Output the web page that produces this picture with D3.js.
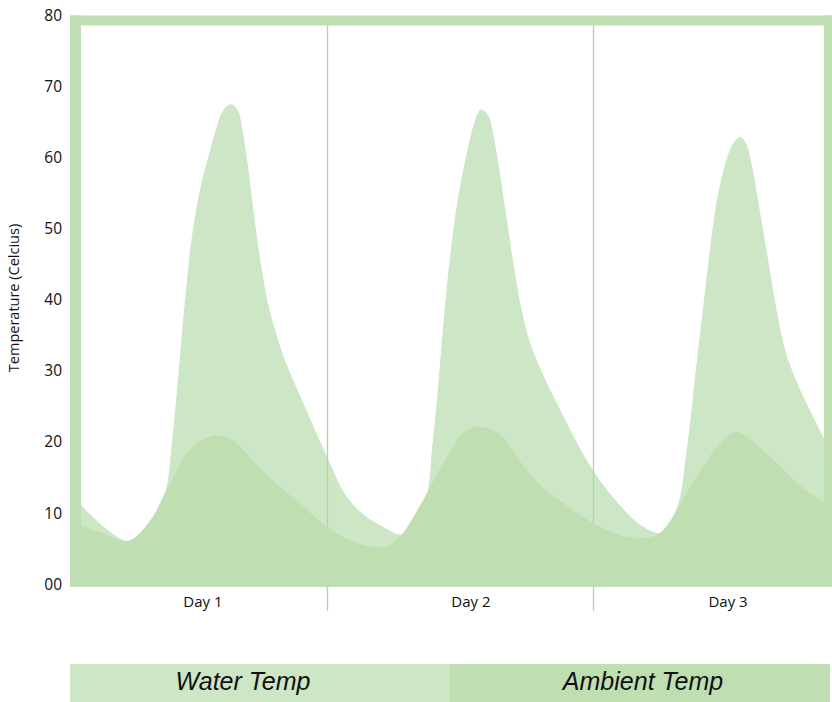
<!DOCTYPE html>
<html>
<head>
<meta charset="utf-8">
<script src="https://cdn.jsdelivr.net/npm/d3@7"></script>
<style>
  html, body { margin: 0; padding: 0; background: #fff; }
  svg { display: block; }
</style>
</head>
<body>
<svg id="chart" width="832" height="702"></svg>
<script>
// ---- data (hours since start, temperature in °C) ----
const waterHours = [0, 4.55, 6.69, 8.14, 8.82, 9.40, 10.08, 10.76, 11.53, 12.31, 13.08, 13.76, 14.53, 15.21, 15.70, 16.18, 16.76, 17.44, 18.12, 18.80, 19.77, 21.42, 23.84, 25.78, 27.51, 28.97, 31.11,
  32.37, 33.53, 34.01, 34.50, 35.08, 35.76, 36.44, 37.21, 37.89, 38.37, 38.76, 39.44, 39.92, 40.41, 41.09, 41.86, 42.64, 43.51, 44.96, 46.42, 49.61, 52.91, 54.65, 56.11,
  57.08, 58.04, 58.53, 59.01, 59.30, 60.37, 61.63, 62.70, 63.28, 63.86, 64.44, 64.93, 65.61, 66.48, 67.35, 68.22, 69.19, 70.16, 72];
const waterTemp = [11.1, 6.05, 8.8, 12.8, 20, 29, 40, 49, 55.5, 60, 64, 66.6, 67.5, 66.6, 63.5, 58.8, 52, 45, 39.5, 35.8, 31.5, 25.9, 17.9, 12.2, 9.6, 8.3, 7.0,
  9.3, 12.7, 19, 26, 36, 46, 53.5, 59.5, 63.8, 66, 66.8, 66, 63.5, 59.5, 53, 45.5, 39, 34, 28.9, 24.6, 16.0, 10.0, 7.9, 7.2,
  8.6, 12.2, 17, 22.5, 26.3, 40, 54, 60.4, 62.2, 62.9, 62.0, 59.5, 54, 46.5, 39, 33, 29, 25.9, 20.5];

const ambientHours = [0, 1.84, 4.55, 6.69, 8.62, 10.56, 12.50, 13.66, 14.63, 15.89, 17.35, 19.28, 21.42, 23.84, 26.07, 28.30, 29.94, 31.11,
  33.14, 35.47, 37.40, 38.86, 40.60, 42.06, 43.51, 44.96, 46.42, 49.61, 52.91, 54.65, 56.11, 59.30, 61.63, 63.37, 64.54, 67.44, 69.67, 72];
const ambientTemp = [8.2, 7.3, 6.05, 8.9, 14.2, 18.9, 20.7, 20.8, 20.3, 18.6, 16.3, 13.7, 11.1, 8.0, 6.2, 5.2, 5.5, 7.0,
  11.8, 17.9, 21.7, 22.1, 21.0, 18.3, 15.4, 13.3, 11.7, 8.6, 6.6, 6.5, 7.2, 14.2, 19.3, 21.4, 20.7, 17.0, 13.9, 11.4];

const yTicks = [0, 10, 20, 30, 40, 50, 60, 70, 80];
const yTickLabels = ["00", "10", "20", "30", "40", "50", "60", "70", "80"];
const dayLabels = ["Day 1", "Day 2", "Day 3"];
const dayLabelHours = [11.82, 37.79, 62.70];
const dayBoundaryHours = [23.84, 49.61];
const legendLabels = ["Water Temp", "Ambient Temp"];
const yTitle = "Temperature (Celcius)";

// ---- styles ----
const waterColor = "#cde6c5";
const ambientColor = "#bfdfb2";
const dividerColor = "#b2d5a4";

const svg = d3.select("#chart");
const x = d3.scaleLinear().domain([0, 72]).range([81, 824]);
const y = d3.scaleLinear().domain([0, 80]).range([584, 15.5]);
const base = y(0) + 3;

const water = waterHours.map((h, i) => ({ h, v: waterTemp[i] }));
const ambient = ambientHours.map((h, i) => ({ h, v: ambientTemp[i] }));

const area = d3.area()
  .x(d => x(d.h))
  .y0(base)
  .y1(d => y(d.v))
  .curve(d3.curveCatmullRom.alpha(0.5));

// water area
svg.append("path").datum(water).attr("d", area).attr("fill", waterColor);

// day dividers
svg.selectAll("line.divider").data(dayBoundaryHours).join("line")
  .attr("class", "divider")
  .attr("x1", d => Math.round(x(d)) + 0.5).attr("x2", d => Math.round(x(d)) + 0.5)
  .attr("y1", y(80) + 10).attr("y2", base + 24)
  .attr("stroke", dividerColor).attr("stroke-width", 1.3);

// ambient area
svg.append("path").datum(ambient).attr("d", area).attr("fill", ambientColor);

// frame (top, left, right)
const frameTop = y(80);
svg.append("rect").attr("x", x(0) - 11).attr("y", frameTop)
  .attr("width", x(72) - x(0) + 22).attr("height", 10).attr("fill", ambientColor);
svg.append("rect").attr("x", x(0) - 11).attr("y", frameTop)
  .attr("width", 11).attr("height", base - frameTop).attr("fill", ambientColor);
svg.append("rect").attr("x", x(72)).attr("y", frameTop)
  .attr("width", 11).attr("height", base - frameTop).attr("fill", ambientColor);

// y axis labels
svg.selectAll("text.ytick").data(yTicks).join("text")
  .attr("class", "ytick")
  .attr("x", 62)
  .attr("y", d => y(d))
  .attr("dy", "0.36em")
  .attr("text-anchor", "end")
  .attr("font-family", "'Open Sans', 'Noto Sans', sans-serif")
  .attr("font-size", 15.5)
  .attr("fill", "#111")
  .text((d, i) => yTickLabels[i]);

// y title
svg.append("text")
  .attr("transform", `translate(19, ${298}) rotate(-90)`)
  .attr("text-anchor", "middle")
  .attr("font-family", "'Open Sans', 'Noto Sans', sans-serif")
  .attr("font-size", 14.5)
  .attr("fill", "#111")
  .text(yTitle);

// day labels
svg.selectAll("text.day").data(dayLabels).join("text")
  .attr("class", "day")
  .attr("x", (d, i) => x(dayLabelHours[i]))
  .attr("y", 607)
  .attr("text-anchor", "middle")
  .attr("font-family", "'Open Sans', 'Noto Sans', sans-serif")
  .attr("font-size", 15)
  .attr("fill", "#111")
  .text(d => d);

// legend
const legendX = d3.scaleBand().domain(legendLabels).range([70, 830]);
const legendColors = [waterColor, ambientColor];
const legendTextOffset = [-17, 3];
const lg = svg.selectAll("g.legend").data(legendLabels).join("g").attr("class", "legend");
lg.append("rect")
  .attr("x", d => legendX(d)).attr("y", 664)
  .attr("width", legendX.bandwidth()).attr("height", 38)
  .attr("fill", (d, i) => legendColors[i]);
lg.append("text")
  .attr("x", (d, i) => legendX(d) + legendX.bandwidth() / 2 + legendTextOffset[i])
  .attr("y", 690)
  .attr("text-anchor", "middle")
  .attr("font-family", "'Liberation Sans', Arial, sans-serif")
  .attr("font-style", "italic")
  .attr("font-size", 25)
  .attr("fill", "#111")
  .text(d => d);
</script>
</body>
</html>
